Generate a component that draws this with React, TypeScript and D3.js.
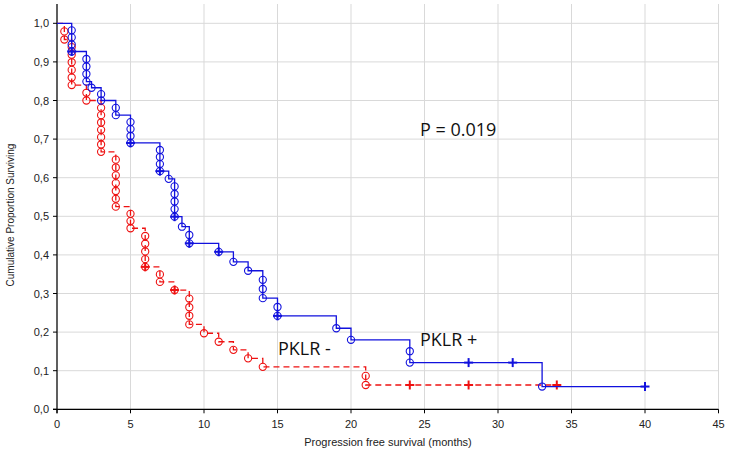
import React from "react";
import * as d3 from "d3";

// PKLR + (blue): event times, survival after step, number of events at that time
const blueTimes = [1, 2, 2.35, 3, 4, 5, 7, 7.6, 8, 8.5, 9, 11, 12, 13, 14, 15, 19, 20, 24, 33];
const blueSurv = [0.927, 0.849, 0.833, 0.8, 0.762, 0.69, 0.617, 0.597, 0.499, 0.473, 0.43, 0.408, 0.382, 0.359, 0.288, 0.242, 0.21, 0.18, 0.121, 0.059];
const blueEvents = [4, 4, 1, 2, 2, 4, 4, 1, 5, 1, 2, 1, 1, 1, 3, 2, 1, 1, 2, 1];
const blueCensTimes = [1, 5, 7, 8, 9, 11, 15, 28, 31, 40];
const blueEnd = 40;

// PKLR - (red)
const redTimes = [0.5, 1, 2, 3, 4, 5, 6, 7, 8, 9, 10, 11, 12, 13, 14, 21];
const redSurv = [0.958, 0.84, 0.8, 0.667, 0.525, 0.469, 0.369, 0.33, 0.309, 0.22, 0.197, 0.175, 0.154, 0.132, 0.11, 0.063];
const redEvents = [2, 6, 2, 7, 7, 3, 5, 2, 1, 4, 1, 1, 1, 1, 1, 2];
const redCensTimes = [6, 8, 24, 28, 34];
const redEnd = 34;

const xTicks = [0, 5, 10, 15, 20, 25, 30, 35, 40, 45];
const yTicks = [0, 0.1, 0.2, 0.3, 0.4, 0.5, 0.6, 0.7, 0.8, 0.9, 1.0];

const W = 731, H = 461;
const x = d3.scaleLinear().domain([0, 45]).range([57, 718.5]);
const y = d3.scaleLinear().domain([0, 1.05]).range([409.3, 4]);

function survAt(times: number[], surv: number[], t: number) {
  let s = 1;
  for (let i = 0; i < times.length; i++) if (times[i] <= t) s = surv[i];
  return s;
}

function stepPath(times: number[], surv: number[], end: number) {
  const pts: [number, number][] = [[0, 1]];
  times.forEach((t, i) => pts.push([t, surv[i]]));
  pts.push([end, surv[surv.length - 1]]);
  const line = d3.line<[number, number]>().x(d => x(d[0])).y(d => y(d[1])).curve(d3.curveStepAfter);
  return line(pts) as string;
}

function circlesFor(times: number[], surv: number[], events: number[]) {
  const out: { t: number; s: number }[] = [];
  times.forEach((t, i) => {
    const s0 = i === 0 ? 1 : surv[i - 1];
    const s1 = surv[i];
    const n = events[i];
    for (let k = 1; k <= n; k++) out.push({ t, s: s0 - (k * (s0 - s1)) / n });
  });
  return out;
}

function Curve({ times, surv, events, cens, end, color, dash }: any) {
  const circles = circlesFor(times, surv, events);
  return (
    <g>
      <path d={stepPath(times, surv, end)} fill="none" stroke={color} strokeWidth={1.3} strokeDasharray={dash} />
      {circles.map((c, i) => (
        <circle key={i} cx={x(c.t)} cy={y(c.s)} r={3.6} fill="none" stroke={color} strokeWidth={1.1} />
      ))}
      {cens.map((t: number, i: number) => {
        const cx = x(t), cy = y(survAt(times, surv, t));
        return (
          <g key={"c" + i} stroke={color} strokeWidth={2}>
            <line x1={cx - 4.5} x2={cx + 4.5} y1={cy} y2={cy} />
            <line x1={cx} x2={cx} y1={cy - 4.5} y2={cy + 4.5} />
          </g>
        );
      })}
    </g>
  );
}

export default function App() {
  const fmt = (v: number) => v.toFixed(1).replace(".", ",");
  return (
    <svg width={W} height={H} style={{ position: "absolute", left: 0, top: 0, background: "#fff" }}
      fontFamily="Liberation Sans, Arial, sans-serif">
      <rect width={W} height={H} fill="#fff" />
      {/* grid */}
      {yTicks.map(v => (
        <line key={"gy" + v} x1={x(0)} x2={x(45)} y1={y(v)} y2={y(v)} stroke="#d9d9d9" strokeWidth={1} />
      ))}
      {xTicks.map(v => (
        <line key={"gx" + v} x1={x(v)} x2={x(v)} y1={y(0)} y2={y(1.05)} stroke="#d9d9d9" strokeWidth={1} />
      ))}
      {/* axes */}
      <line x1={x(0)} x2={x(0)} y1={y(1.05)} y2={y(0) + 4} stroke="#000" strokeWidth={1.2} />
      <line x1={x(0) - 4} x2={x(45)} y1={y(0)} y2={y(0)} stroke="#000" strokeWidth={1.2} />
      {yTicks.map(v => (
        <g key={"ty" + v}>
          <line x1={x(0) - 4} x2={x(0)} y1={y(v)} y2={y(v)} stroke="#000" />
          <text x={x(0) - 8} y={y(v) + 4} textAnchor="end" fontSize={11} fill="#222">{fmt(v)}</text>
        </g>
      ))}
      {xTicks.map(v => (
        <g key={"tx" + v}>
          <line x1={x(v)} x2={x(v)} y1={y(0)} y2={y(0) + 4} stroke="#000" />
          <text x={x(v)} y={y(0) + 19} textAnchor="middle" fontSize={11} fill="#222">{v}</text>
        </g>
      ))}
      <text x={388} y={446} textAnchor="middle" fontSize={11} fill="#222">Progression free survival (months)</text>
      <text transform="translate(14,215) rotate(-90)" textAnchor="middle" fontSize={10} fill="#222">Cumulative Proportion Surviving</text>

      <Curve times={redTimes} surv={redSurv} events={redEvents} cens={redCensTimes} end={redEnd} color="#ee1111" dash="6,4" />
      <Curve times={blueTimes} surv={blueSurv} events={blueEvents} cens={blueCensTimes} end={blueEnd} color="#1111dd" />

      <text x={420} y={136} fontSize={18} fontFamily="Open Sans, sans-serif" fill="#111">P = 0.019</text>
      <text x={420} y={346} fontSize={18} fontFamily="Open Sans, sans-serif" fill="#111">PKLR +</text>
      <text x={278} y={355} fontSize={18} fontFamily="Open Sans, sans-serif" fill="#111">PKLR -</text>
    </svg>
  );
}
